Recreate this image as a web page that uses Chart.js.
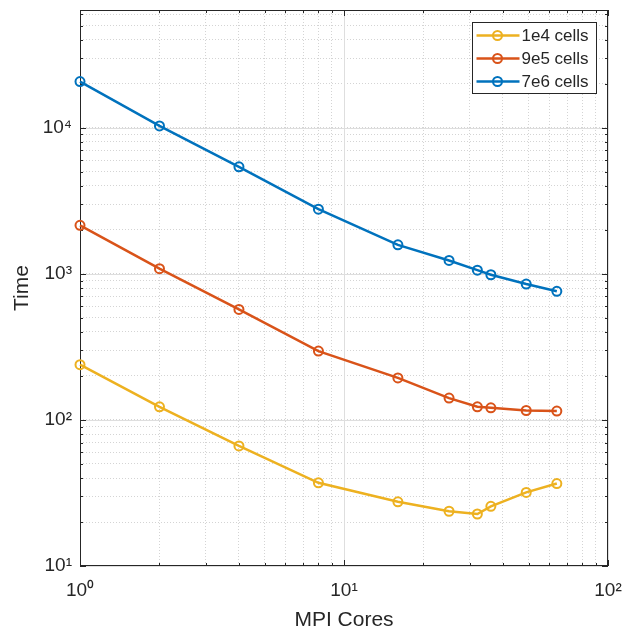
<!DOCTYPE html>
<html>
<head>
<meta charset="utf-8">
<script src="https://cdn.jsdelivr.net/npm/chart.js@4"></script>
<style>
  html, body { margin: 0; padding: 0; background: #fff; }
  canvas { display: block; }
</style>
</head>
<body>
<canvas id="scaling" width="626" height="633"></canvas>
<script>
"use strict";

// MPI cores (x) and run time (y) per mesh size
const cores = [1, 2, 4, 8, 16, 25, 32, 36, 49, 64];
const time1e4 = [239, 123, 66.4, 37.1, 27.5, 23.7, 22.7, 25.6, 31.9, 36.7];
const time9e5 = [2150, 1085, 571, 296, 194, 141, 123, 121, 116, 115];
const time7e6 = [20700, 10300, 5400, 2770, 1580, 1235, 1060, 986, 851, 759];
const seriesLabels = ["1e4 cells", "9e5 cells", "7e6 cells"];
const seriesColors = ["#EDB120", "#D95319", "#0072BD"];
const xRange = [1, 100];
const yRange = [10, 64000];

const FONT = "'Liberation Sans', Arial, Helvetica, sans-serif";
const INK = "#262626";
const sup = { "0": "\u2070", "1": "\u00b9", "2": "\u00b2", "3": "\u00b3", "4": "\u2074", "5": "\u2075" };

const isDecade = (v) => Math.abs(Math.log10(v) - Math.round(Math.log10(v))) < 1e-9;
const decadeLabel = (v) => isDecade(v) ? "10" + sup[String(Math.round(Math.log10(v)))] : "";

// 1..9 x 10^k ticks between min and max
const logTicks = (min, max) => {
  const out = [];
  for (let e = Math.floor(Math.log10(min)); e <= Math.ceil(Math.log10(max)); e++) {
    for (let m = 1; m < 10; m++) {
      const v = m * Math.pow(10, e);
      if (v >= min * 0.999 && v <= max * 1.001) out.push({ value: v, major: isDecade(v) });
    }
  }
  return out;
};

// no extra room for overhanging tick labels, the box is placed by layout padding
const noOverhang = (s) => {
  s.paddingTop = 0; s.paddingBottom = 0; s.paddingLeft = 0; s.paddingRight = 0;
};

const toPoints = (ys) => cores.map((c, i) => ({ x: c, y: ys[i] }));
const series = [time1e4, time9e5, time7e6];

const datasets = series.map((ys, i) => ({
  label: seriesLabels[i],
  data: toPoints(ys),
  borderColor: seriesColors[i],
  backgroundColor: seriesColors[i],
  borderWidth: 2.5,
  pointRadius: 4.5,
  pointBorderWidth: 2,
  pointBackgroundColor: "rgba(255,255,255,0)",
  pointBorderColor: seriesColors[i],
  tension: 0,
  clip: false,
}));

// solid decade grid, inner tick marks and the box (matlab style)
const axesBox = {
  id: "axesBox",
  beforeDatasetsDraw(chart) {
    const { ctx, chartArea: a, scales: { x, y } } = chart;
    ctx.save();
    ctx.lineWidth = 1;
    ctx.strokeStyle = "#dedede";
    x.ticks.filter((t) => t.major).forEach((t) => {
      const px = Math.round(x.getPixelForValue(t.value)) + 0.5;
      ctx.beginPath(); ctx.moveTo(px, a.top); ctx.lineTo(px, a.bottom); ctx.stroke();
    });
    y.ticks.filter((t) => t.major).forEach((t) => {
      const py = Math.round(y.getPixelForValue(t.value)) + 0.5;
      ctx.beginPath(); ctx.moveTo(a.left, py); ctx.lineTo(a.right, py); ctx.stroke();
    });

    ctx.strokeStyle = INK;
    x.ticks.forEach((t) => {
      const px = Math.round(x.getPixelForValue(t.value)) + 0.5;
      const len = t.major ? 6 : 3;
      ctx.beginPath();
      ctx.moveTo(px, a.bottom); ctx.lineTo(px, a.bottom - len);
      ctx.moveTo(px, a.top); ctx.lineTo(px, a.top + len);
      ctx.stroke();
    });
    y.ticks.forEach((t) => {
      const py = Math.round(y.getPixelForValue(t.value)) + 0.5;
      const len = t.major ? 6 : 3;
      ctx.beginPath();
      ctx.moveTo(a.left, py); ctx.lineTo(a.left + len, py);
      ctx.moveTo(a.right, py); ctx.lineTo(a.right - len, py);
      ctx.stroke();
    });
    ctx.strokeRect(Math.round(a.left) + 0.5, Math.round(a.top) + 0.5,
      Math.round(a.width) - 1, Math.round(a.height) - 1);
    ctx.restore();
  },
  afterDraw(chart) {
    // legend box in the upper right corner
    const { ctx, chartArea: a } = chart;
    const w = 124, rowH = 23, h = 71;
    const left = Math.round(a.right - 12 - w) + 0.5;
    const top = Math.round(a.top + 12) + 0.5;
    ctx.save();
    ctx.fillStyle = "#fff";
    ctx.fillRect(left, top, w, h);
    ctx.strokeStyle = INK;
    ctx.lineWidth = 1;
    ctx.strokeRect(left, top, w, h);
    ctx.font = "17px " + FONT;
    ctx.textBaseline = "middle";
    chart.data.datasets.forEach((ds, i) => {
      const cy = top + 13 + i * rowH;
      ctx.strokeStyle = ds.borderColor;
      ctx.lineWidth = 2.5;
      ctx.beginPath(); ctx.moveTo(left + 4, cy); ctx.lineTo(left + 47, cy); ctx.stroke();
      ctx.lineWidth = 2;
      ctx.beginPath(); ctx.arc(left + 25, cy, 4.5, 0, Math.PI * 2); ctx.stroke();
      ctx.fillStyle = INK;
      ctx.fillText(ds.label, left + 49, cy + 1);
    });
    ctx.restore();
  },
};

new Chart(document.getElementById("scaling"), {
  type: "line",
  data: { datasets },
  options: {
    responsive: false,
    animation: false,
    layout: { padding: { top: 10, right: 18, left: 0, bottom: 0 } },
    plugins: { legend: { display: false }, tooltip: { enabled: false } },
    scales: {
      x: {
        type: "logarithmic",
        min: xRange[0],
        max: xRange[1],
        afterBuildTicks: (s) => { s.ticks = logTicks(xRange[0], xRange[1]); },
        afterFit: (s) => { s.height = 67; noOverhang(s); },
        grid: { color: "#d4d4d4", drawTicks: false },
        border: { display: false, dash: [1, 2] },
        ticks: {
          autoSkip: false,
          maxRotation: 0,
          padding: 13,
          color: INK,
          font: { family: FONT, size: 19 },
          callback: (v) => decadeLabel(v),
        },
        title: {
          display: true,
          text: "MPI Cores",
          color: INK,
          font: { family: FONT, size: 21 },
          padding: { top: 0, bottom: 0 },
        },
      },
      y: {
        type: "logarithmic",
        min: yRange[0],
        max: yRange[1],
        afterBuildTicks: (s) => { s.ticks = logTicks(yRange[0], yRange[1]); },
        afterFit: (s) => { s.width = 80; noOverhang(s); },
        grid: { color: "#d4d4d4", drawTicks: false },
        border: { display: false, dash: [1, 2] },
        ticks: {
          autoSkip: false,
          padding: 8,
          color: INK,
          font: { family: FONT, size: 19 },
          callback: (v) => decadeLabel(v),
        },
        title: {
          display: true,
          text: "Time",
          color: INK,
          font: { family: FONT, size: 21 },
          padding: { top: 10, bottom: 0 },
        },
      },
    },
  },
  plugins: [axesBox],
});
</script>
</body>
</html>
